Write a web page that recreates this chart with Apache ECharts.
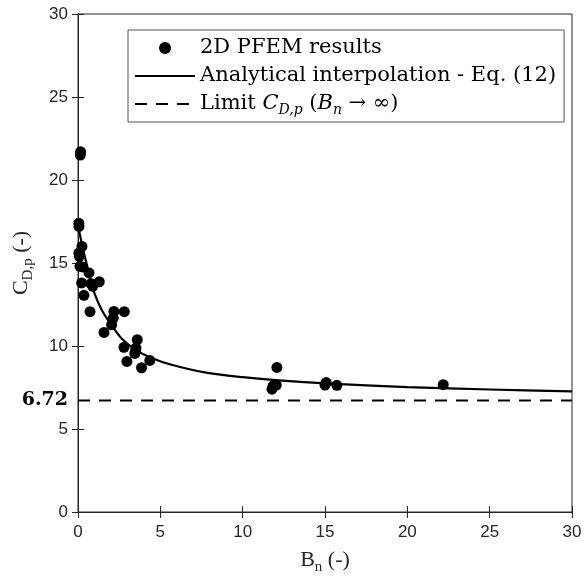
<!DOCTYPE html>
<html>
<head>
<meta charset="utf-8">
<script src="https://cdn.jsdelivr.net/npm/echarts@6/dist/echarts.min.js"></script>
<style>
html,body{margin:0;padding:0;background:#fff;}
#chart{width:587px;height:583px;}
</style>
</head>
<body>
<div id="chart"></div>
<script>
// PFEM results (Bn, C_D,p)
const pfemBn  = [0.16, 0.14, 0.05, 0.06, 0.24, 0.05, 0.08, 0.28, 0.12, 0.67, 0.22, 0.79, 0.89, 1.29, 0.36, 0.73,
                 2.18, 2.14, 2.04, 2.81, 1.58, 3.60, 2.79, 3.52, 3.45, 3.50, 2.97, 3.86, 4.36,
                 12.08, 11.78, 11.85, 12.04, 15.07, 15.00, 15.72, 22.18];
const pfemCdp = [21.7, 21.5, 17.4, 17.2, 16.0, 15.6, 15.4, 14.76, 14.8, 14.4, 13.8, 13.75, 13.6, 13.87, 13.05, 12.07,
                 12.08, 11.68, 11.28, 12.07, 10.82, 10.38, 9.92, 9.88, 9.55, 9.7, 9.07, 8.69, 9.13,
                 8.71, 7.40, 7.60, 7.65, 7.80, 7.65, 7.63, 7.67];
// Analytical interpolation curve
const curveBn  = [0.04, 0.2, 0.36, 0.56, 0.8, 1.03, 1.45, 1.94, 2.65, 3.45, 4.47, 5.68, 7.7, 10, 12, 15, 20, 25, 30];
const curveCdp = [17.1, 16.3, 15.6, 14.8, 13.85, 13.1, 12.15, 11.39, 10.45, 9.8, 9.28, 8.87, 8.41, 8.12, 7.94, 7.75, 7.52, 7.38, 7.27];
// Limit value
const limitCdp = 6.72;
const limitBn = [0, 30];

const chart = echarts.init(document.getElementById('chart'), null, {renderer: 'canvas'});
const axisColor = '#262626';
const tickFont = {fontFamily: 'Liberation Sans', fontSize: 17, color: '#262626'};
const nameRich = {
  r: {fontFamily: 'Liberation Serif', fontSize: 22, color: '#262626', lineHeight: 30, verticalAlign: 'middle'},
  s: {fontFamily: 'Liberation Serif', fontSize: 15, color: '#262626', lineHeight: 14, verticalAlign: 'bottom'}
};
const legRich = {
  r: {fontFamily: 'DejaVu Serif', fontSize: 21, color: '#000', lineHeight: 26, verticalAlign: 'middle'},
  i: {fontFamily: 'DejaVu Serif', fontStyle: 'italic', fontSize: 21, color: '#000', lineHeight: 26, verticalAlign: 'middle'},
  s: {fontFamily: 'DejaVu Serif', fontStyle: 'italic', fontSize: 14, color: '#000', lineHeight: 12, verticalAlign: 'bottom'}
};

const option = {
  animation: false,
  backgroundColor: '#fff',
  grid: {left: 78, right: 15, top: 14, bottom: 71, show: true, borderColor: axisColor, borderWidth: 1, containLabel: false},
  legend: {
    left: 128, top: 30, orient: 'vertical',
    backgroundColor: '#fff', borderColor: '#555', borderWidth: 1,
    padding: [5, 8, 5, 6], itemGap: 2, itemWidth: 60, itemHeight: 12,
    data: [
      {name: 'pfem'},
      {name: 'interp', itemStyle: {opacity: 0}},
      {name: 'limit', itemStyle: {opacity: 0}}
    ],
    formatter: function (n) {
      if (n === 'pfem') return '{r|2D PFEM results}';
      if (n === 'interp') return '{r|Analytical interpolation - Eq. (12)}';
      return '{r|Limit }{i|C}{s|D,p}{r| (}{i|B}{s|n}{r| → ∞)}';
    },
    textStyle: {rich: legRich, fontFamily: 'DejaVu Serif', fontSize: 21, lineHeight: 26}
  },
  xAxis: [{
    type: 'value', min: 0, max: 30, interval: 5,
    axisLine: {show: true, lineStyle: {color: axisColor, width: 1}},
    axisTick: {show: true, inside: true, length: 6, lineStyle: {color: axisColor}},
    axisLabel: Object.assign({margin: 12}, tickFont),
    splitLine: {show: false},
    name: '{r|B}{s|n}{r| (-)}', nameLocation: 'middle', nameGap: 33,
    nameTextStyle: {rich: nameRich}
  }, {
    type: 'value', min: 0, max: 30, interval: 5, position: 'top',
    axisLine: {show: true, lineStyle: {color: axisColor}},
    axisTick: {show: true, inside: true, length: 6, lineStyle: {color: axisColor}},
    axisLabel: {show: false}, splitLine: {show: false}
  }],
  yAxis: [{
    type: 'value', min: 0, max: 30, interval: 5,
    axisLine: {show: true, lineStyle: {color: axisColor, width: 1}},
    axisTick: {show: true, inside: true, length: 6, lineStyle: {color: axisColor}},
    axisLabel: Object.assign({margin: 10}, tickFont),
    splitLine: {show: false},
    name: '{r|C}{s|D,p}{r| (-)}', nameLocation: 'middle', nameGap: 42, nameRotate: 90,
    nameTextStyle: {rich: nameRich}
  }, {
    type: 'value', min: 0, max: 30, interval: 5, position: 'right',
    axisLine: {show: true, lineStyle: {color: axisColor}},
    axisTick: {show: true, inside: true, length: 6, lineStyle: {color: axisColor}},
    axisLabel: {show: false}, splitLine: {show: false}
  }],
  series: [{
    name: 'pfem', type: 'scatter', symbol: 'circle', symbolSize: 11,
    itemStyle: {color: '#000', opacity: 1}, z: 5,
    data: pfemBn.map((x, k) => [x, pfemCdp[k]])
  }, {
    name: 'interp', type: 'line', showSymbol: false, symbol: 'none', smooth: 0.3,
    lineStyle: {color: '#000', width: 2.2}, itemStyle: {color: '#000'}, z: 3,
    data: curveBn.map((x, k) => [x, curveCdp[k]])
  }, {
    name: 'limit', type: 'line', showSymbol: false, symbol: 'none',
    lineStyle: {color: '#000', width: 2, type: [12, 9]}, itemStyle: {color: '#000'}, z: 3,
    data: limitBn.map(x => [x, limitCdp]),
    markLine: {
      silent: true, symbol: 'none', animation: false,
      lineStyle: {color: 'rgba(0,0,0,0)', width: 1, type: 'solid'},
      label: {show: true, position: 'start', distance: 10, formatter: String(limitCdp),
              fontFamily: 'DejaVu Serif', fontWeight: 'bold', fontSize: 19, color: '#000'},
      data: [{yAxis: limitCdp}]
    }
  }]
};
chart.setOption(option);
</script>
</body>
</html>
